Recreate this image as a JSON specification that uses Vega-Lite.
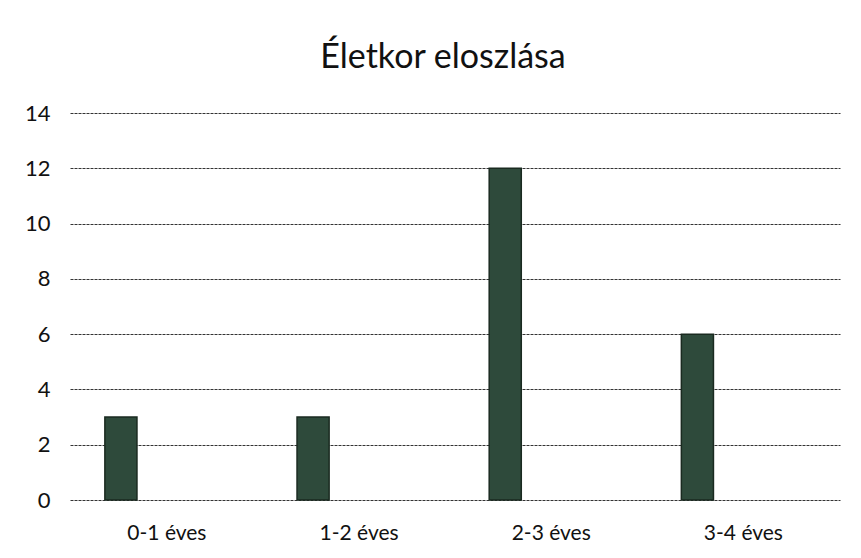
{
  "$schema": "https://vega.github.io/schema/vega-lite/v6.json",
  "autosize": {"type": "none"},
  "width": 770,
  "height": 387,
  "padding": {"left": 70, "top": 113, "right": 21, "bottom": 58},
  "background": "white",
  "title": {
    "text": "Életkor eloszlása",
    "font": "Lato",
    "fontSize": 34,
    "fontWeight": "normal",
    "color": "#111111",
    "anchor": "middle",
    "dx": -12,
    "offset": 27
  },
  "data": {
    "values": [
      {"kor": "0-1 éves", "db": 3},
      {"kor": "1-2 éves", "db": 3},
      {"kor": "2-3 éves", "db": 12},
      {"kor": "3-4 éves", "db": 6}
    ]
  },
  "mark": {"type": "bar", "color": "#2e4a3b", "stroke": "#1a2a20", "strokeWidth": 1.5},
  "encoding": {
    "x": {
      "field": "kor",
      "type": "nominal",
      "sort": null,
      "title": null,
      "scale": {"paddingInner": 0.833, "paddingOuter": 0.42, "align": 0.216},
      "axis": {
        "labelAngle": 0,
        "labelFont": "Lato",
        "labelFontSize": 21,
        "labelColor": "#111111",
        "labelPadding": 22,
        "labelOffset": 46,
        "domain": false,
        "ticks": false,
        "grid": false
      }
    },
    "y": {
      "field": "db",
      "type": "quantitative",
      "title": null,
      "scale": {"domain": [0, 14], "nice": false},
      "axis": {
        "values": [0, 2, 4, 6, 8, 10, 12, 14],
        "labelFont": "Lato",
        "labelFontSize": 22,
        "labelColor": "#111111",
        "labelPadding": 20,
        "domain": false,
        "ticks": false,
        "grid": true,
        "gridColor": "#333333",
        "gridWidth": 1,
        "gridDash": [3, 1]
      }
    }
  },
  "config": {"view": {"stroke": null}}
}
